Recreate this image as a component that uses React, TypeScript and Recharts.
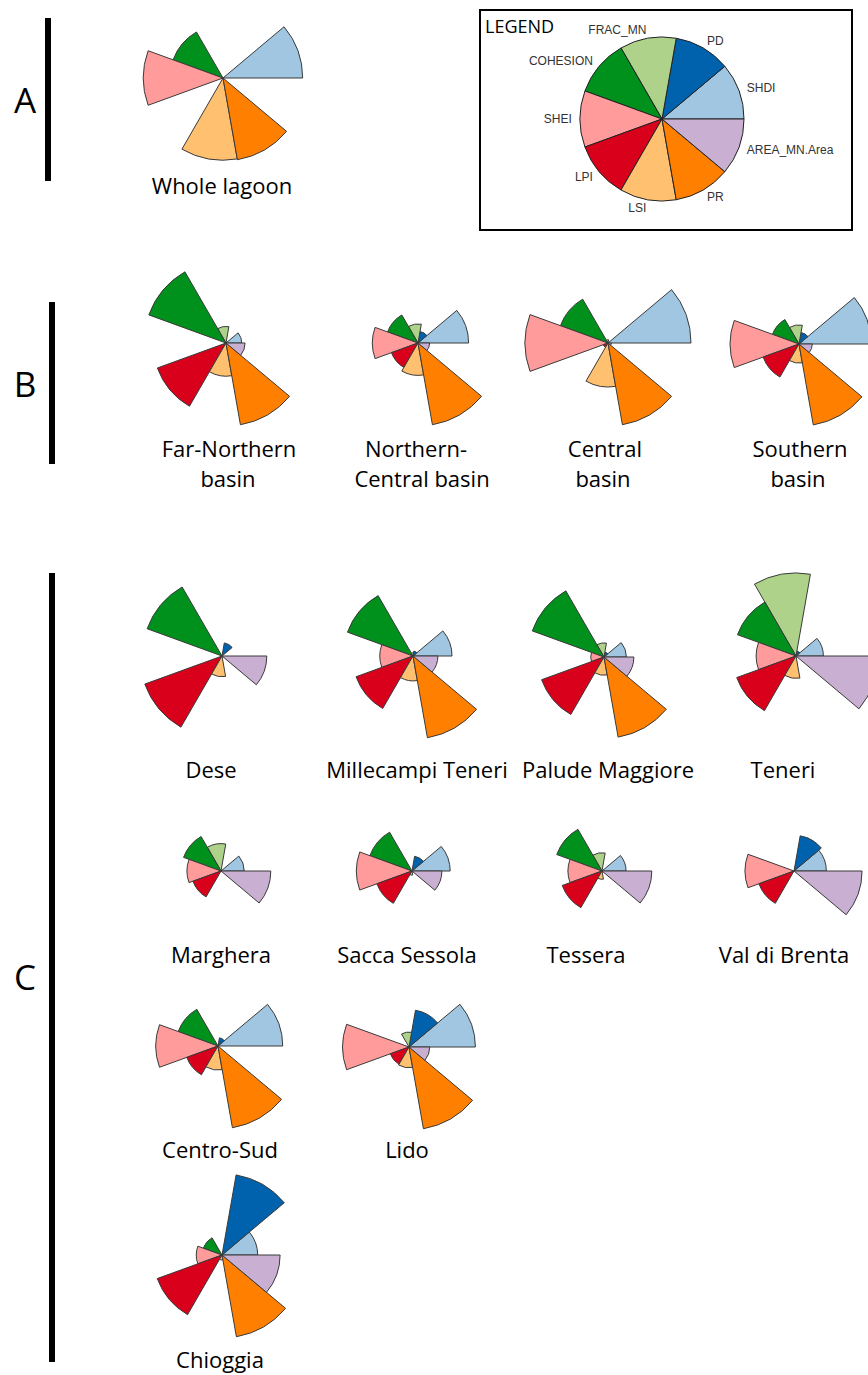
import React from 'react';
import { PieChart, Pie, Cell, Sector, Tooltip } from 'recharts';

// variable order follows the legend, counter-clockwise from 3 o'clock
const variables = ['SHDI', 'PD', 'FRAC_MN', 'COHESION', 'SHEI', 'LPI', 'LSI', 'PR', 'AREA_MN.Area'];
const colors = ['#a0c6e1', '#0062ad', '#aed28a', '#00901c', '#ff9c9b', '#d9001b', '#ffc06f', '#ff7f00', '#c9afd1'];

// scaled values (0..1), same order as variables
const wholeLagoon = [0.96, 0, 0, 0.64, 0.96, 0, 0.99, 1, 0];
const farNorthern = [0.19, 0, 0.2, 0.99, 0, 0.88, 0.4, 1, 0.23];
const northernCentral = [0.61, 0.14, 0.23, 0.39, 0.55, 0.34, 0.39, 1, 0.14];
const centralBasin = [1, 0, 0.04, 0.61, 1, 0.06, 0.53, 1, 0.04];
const southernBasin = [0.87, 0.14, 0.23, 0.34, 0.83, 0.46, 0.23, 0.99, 0.16];
const dese = [0, 0.16, 0, 0.96, 0, 0.99, 0.25, 0, 0.54];
const millecampiTeneri = [0.47, 0.06, 0.04, 0.84, 0.4, 0.73, 0.3, 1, 0.3];
const paludeMaggiore = [0.27, 0.06, 0.17, 0.92, 0.16, 0.8, 0.22, 0.98, 0.36];
const teneri = [0.33, 0.06, 1, 0.75, 0.48, 0.76, 0.27, 0, 0.99];
const marghera = [0.28, 0, 0.33, 0.48, 0.41, 0.36, 0, 0, 0.6];
const saccaSessola = [0.46, 0.18, 0, 0.54, 0.67, 0.45, 0.05, 0, 0.36];
const tessera = [0.29, 0, 0.22, 0.58, 0.41, 0.51, 0.1, 0, 0.6];
const valDiBrenta = [0.39, 0.43, 0, 0, 0.59, 0.45, 0, 0, 0.82];
const centroSud = [0.78, 0.1, 0, 0.51, 0.75, 0.4, 0.29, 1, 0];
const lido = [0.8, 0.45, 0.18, 0, 0.8, 0.24, 0.25, 1, 0.25];
const chioggia = [0.43, 0.98, 0, 0.24, 0.31, 0.83, 0.06, 1, 0.7];

const R = 83; // full segment length
const S = 180; // box of each star

// star centre, label lines, label centre x, first baseline
const stars = [
  { values: wholeLagoon, c: [223, 78], lines: ['Whole lagoon'], lx: 222, ly: 194 },
  { values: farNorthern, c: [226, 343], lines: ['Far-Northern', 'basin'], lx: [229, 228], ly: 457 },
  { values: northernCentral, c: [418, 343], lines: ['Northern-', 'Central basin'], lx: [416, 422], ly: 457 },
  { values: centralBasin, c: [608, 343], lines: ['Central', 'basin'], lx: [605, 603], ly: 457 },
  { values: southernBasin, c: [799, 344], lines: ['Southern', 'basin'], lx: [800, 798], ly: 457 },
  { values: dese, c: [222, 656], lines: ['Dese'], lx: 211, ly: 778 },
  { values: millecampiTeneri, c: [413, 656], lines: ['Millecampi Teneri'], lx: 417, ly: 778 },
  { values: paludeMaggiore, c: [604, 657], lines: ['Palude Maggiore'], lx: 608, ly: 778 },
  { values: teneri, c: [796, 656], lines: ['Teneri'], lx: 783, ly: 778 },
  { values: marghera, c: [221, 871], lines: ['Marghera'], lx: 221, ly: 963 },
  { values: saccaSessola, c: [412, 871], lines: ['Sacca Sessola'], lx: 407, ly: 963 },
  { values: tessera, c: [602, 871], lines: ['Tessera'], lx: 586, ly: 963 },
  { values: valDiBrenta, c: [794, 871], lines: ['Val di Brenta'], lx: 784, ly: 963 },
  { values: centroSud, c: [218, 1046], lines: ['Centro-Sud'], lx: 220, ly: 1158 },
  { values: lido, c: [409, 1047], lines: ['Lido'], lx: 407, ly: 1158 },
  { values: chioggia, c: [222, 1255], lines: ['Chioggia'], lx: 220, ly: 1368 },
];

const labelFont = '"Open Sans", sans-serif';

function Segment(props: any) {
  const v = props.payload?.v ?? props.v ?? 0;
  if (!v) return <g />;
  return (
    <Sector
      cx={props.cx}
      cy={props.cy}
      innerRadius={0}
      outerRadius={props.outerRadius * v}
      startAngle={props.startAngle}
      endAngle={props.endAngle}
      fill={props.fill}
      stroke="#3a3a3a"
      strokeWidth={1}
    />
  );
}

function Star({ values, c }: { values: number[]; c: number[] }) {
  const data = variables.map((name, i) => ({ name, w: 1, v: values[i] }));
  return (
    <div style={{ position: 'absolute', left: c[0] - S / 2, top: c[1] - S / 2 }}>
      <PieChart width={S} height={S} margin={{ top: 0, right: 0, bottom: 0, left: 0 }}>
        <Pie
          data={data}
          dataKey="w"
          nameKey="name"
          cx={S / 2}
          cy={S / 2}
          outerRadius={R}
          startAngle={0}
          endAngle={360}
          stroke="none"
          isAnimationActive={false}
          shape={Segment}
          activeShape={Segment}
          inactiveShape={Segment}
        >
          {data.map((d, i) => (
            <Cell key={d.name} fill={colors[i]} />
          ))}
        </Pie>
        <Tooltip defaultIndex={0} content={() => null} cursor={false} />
      </PieChart>
    </div>
  );
}

const legendLabel = (p: any) => {
  const rad = Math.PI / 180;
  const r = p.outerRadius * 1.1;
  const x = p.cx + r * Math.cos(-p.midAngle * rad);
  const y = p.cy + r * Math.sin(-p.midAngle * rad);
  return (
    <text
      x={x}
      y={y}
      textAnchor={x < p.cx ? 'end' : 'start'}
      dominantBaseline="central"
      fontFamily='"Liberation Sans", Arial, sans-serif'
      fontSize={12}
      fill="#333"
    >
      {p.payload?.name ?? p.name}
    </text>
  );
};

function LegendPie() {
  const data = variables.map((name) => ({ name, w: 1 }));
  return (
    <div style={{ position: 'absolute', left: 480, top: 10 }}>
      <PieChart width={372} height={220} margin={{ top: 0, right: 0, bottom: 0, left: 0 }}>
        <Pie
          data={data}
          dataKey="w"
          nameKey="name"
          cx={182}
          cy={109}
          outerRadius={82}
          startAngle={0}
          endAngle={360}
          stroke="#222"
          strokeWidth={1}
          label={legendLabel}
          labelLine={false}
          isAnimationActive={false}
        >
          {data.map((d, i) => (
            <Cell key={d.name} fill={colors[i]} />
          ))}
        </Pie>
      </PieChart>
    </div>
  );
}

export default function App() {
  return (
    <div
      style={{
        position: 'absolute',
        left: 0,
        top: 0,
        width: 868,
        height: 1375,
        overflow: 'hidden',
        background: '#fff',
      }}
    >
      <svg width={868} height={1375} style={{ position: 'absolute', left: 0, top: 0 }}>
        {/* section bars and letters */}
        <rect x={45} y={18} width={6} height={163} fill="#000" />
        <rect x={49} y={302} width={6} height={162} fill="#000" />
        <rect x={49} y={573} width={6} height={789} fill="#000" />
        <text x={25} y={113} textAnchor="middle" fontFamily={labelFont} fontSize={35} fill="#000">A</text>
        <text x={25} y={397} textAnchor="middle" fontFamily={labelFont} fontSize={35} fill="#000">B</text>
        <text x={25} y={990} textAnchor="middle" fontFamily={labelFont} fontSize={35} fill="#000">C</text>

        {/* legend box */}
        <rect x={480} y={10} width={372} height={220} fill="none" stroke="#000" strokeWidth={2} />
        <text x={485} y={33} fontFamily={labelFont} fontSize={18} fill="#000">LEGEND</text>

        {stars.map((s) =>
          s.lines.map((line, j) => (
            <text
              key={line}
              x={Array.isArray(s.lx) ? s.lx[j] : s.lx}
              y={s.ly + j * 30}
              textAnchor="middle"
              fontFamily={labelFont}
              fontSize={22}
              fill="#000"
            >
              {line}
            </text>
          ))
        )}
      </svg>
      <LegendPie />
      {stars.map((s) => (
        <Star key={s.lines.join(' ')} values={s.values} c={s.c} />
      ))}
    </div>
  );
}
